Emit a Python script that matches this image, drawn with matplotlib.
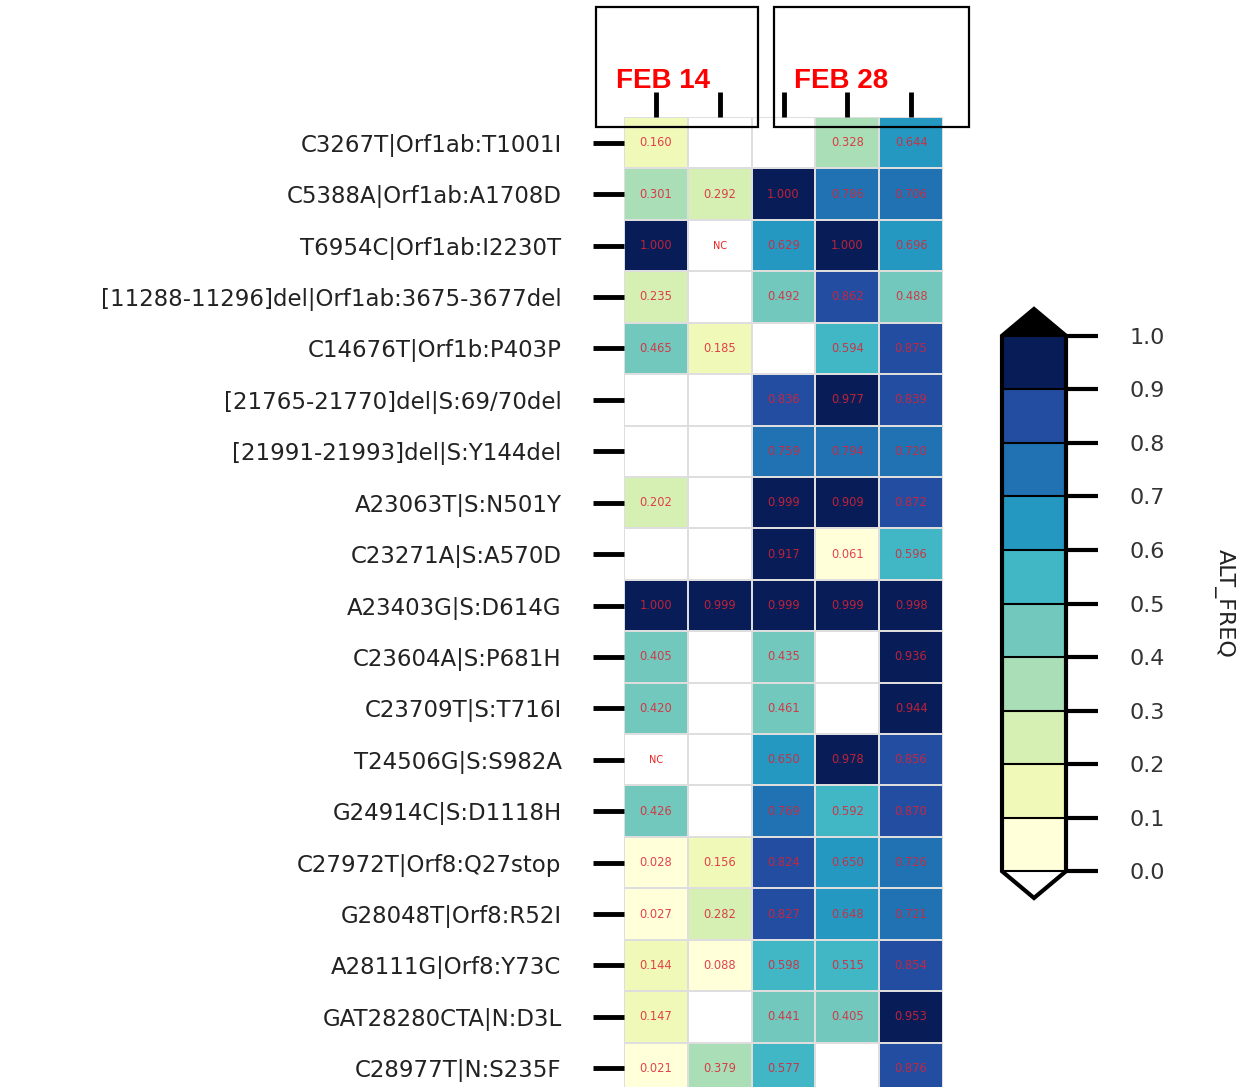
import numpy as np
import matplotlib
matplotlib.use('Agg')
import matplotlib.pyplot as plt
from matplotlib.colors import ListedColormap
from matplotlib.patches import Rectangle

nan = np.nan

mutations = [
    'C3267T|Orf1ab:T1001I',
    'C5388A|Orf1ab:A1708D',
    'T6954C|Orf1ab:I2230T',
    '[11288-11296]del|Orf1ab:3675-3677del',
    'C14676T|Orf1b:P403P',
    '[21765-21770]del|S:69/70del',
    '[21991-21993]del|S:Y144del',
    'A23063T|S:N501Y',
    'C23271A|S:A570D',
    'A23403G|S:D614G',
    'C23604A|S:P681H',
    'C23709T|S:T716I',
    'T24506G|S:S982A',
    'G24914C|S:D1118H',
    'C27972T|Orf8:Q27stop',
    'G28048T|Orf8:R52I',
    'A28111G|Orf8:Y73C',
    'GAT28280CTA|N:D3L',
    'C28977T|N:S235F',
]

# one column per sample, 2 from feb 14 and 3 from feb 28
sample_1 = [0.160, 0.301, 1.000, 0.235, 0.465, nan, nan, 0.202, nan, 1.000,
            0.405, 0.420, nan, 0.426, 0.028, 0.027, 0.144, 0.147, 0.021]
sample_2 = [nan, 0.292, nan, nan, 0.185, nan, nan, nan, nan, 0.999,
            nan, nan, nan, nan, 0.156, 0.282, 0.088, nan, 0.379]
sample_3 = [nan, 1.000, 0.629, 0.492, nan, 0.836, 0.759, 0.999, 0.917, 0.999,
            0.435, 0.461, 0.650, 0.769, 0.824, 0.827, 0.598, 0.441, 0.577]
sample_4 = [0.328, 0.786, 1.000, 0.862, 0.594, 0.977, 0.794, 0.909, 0.061, 0.999,
            nan, nan, 0.978, 0.592, 0.650, 0.648, 0.515, 0.405, nan]
sample_5 = [0.644, 0.706, 0.696, 0.488, 0.875, 0.839, 0.720, 0.872, 0.596, 0.998,
            0.936, 0.944, 0.856, 0.870, 0.726, 0.721, 0.854, 0.953, 0.876]

# cells with no coverage: (row, column)
no_call = [(2, 1), (12, 0)]

group_labels = ['FEB 14', 'FEB 28']

data = np.array([sample_1, sample_2, sample_3, sample_4, sample_5]).T
n_rows, n_cols = data.shape

W, H = 1248, 1087
fig = plt.figure(figsize=(W / 100, H / 100), dpi=100)

# 11-step YlGnBu, the 0.9-1.0 bin takes the last (darkest) step
base = plt.get_cmap('YlGnBu', 11)
steps = base(np.linspace(0, 1, 11))
cmap = ListedColormap(np.vstack([steps[:9], steps[10:]]))
cmap.set_over('black')
cmap.set_under('white')

ax = fig.add_axes([624 / W, 1 - 1094 / H, 319 / W, 977 / H])
mesh = ax.pcolormesh(np.ma.masked_invalid(data), cmap=cmap, vmin=0, vmax=1,
                     edgecolors='#dedede', linewidth=1.2)
ax.set_xlim(0, n_cols)
ax.set_ylim(n_rows, 0)
for side in ax.spines.values():
    side.set_visible(False)

for i in range(n_rows):
    for j in range(n_cols):
        if (i, j) in no_call:
            ax.text(j + 0.5, i + 0.5, 'NC', ha='center', va='center', fontsize=7, color='#ee2222')
        elif not np.isnan(data[i, j]):
            ax.text(j + 0.5, i + 0.5, f'{data[i, j]:.3f}', ha='center', va='center',
                    fontsize=8.3, color='#dd2233', alpha=0.85)

ax.set_yticks(np.arange(n_rows) + 0.5)
ax.set_yticklabels(mutations, fontsize=16.5, color='#222222')
ax.tick_params(axis='y', length=22, width=3.5, pad=23)
ax.xaxis.tick_top()
ax.set_xticks(np.arange(n_cols) + 0.5)
ax.set_xticklabels([])
ax.tick_params(axis='x', length=18, width=3.5)

cax = fig.add_axes([1002 / W, 1 - 898 / H, 64 / W, 589 / H])
cb = fig.colorbar(mesh, cax=cax, extend='both', drawedges=True,
                  ticks=np.arange(0, 1.01, 0.1))
cb.outline.set_linewidth(3)
cb.dividers.set_linewidth(1.5)
cb.ax.tick_params(length=23, width=3, pad=23, labelsize=16, labelcolor='#333333')
cb.set_label('ALT_FREQ', rotation=270, fontsize=16, color='#222222', labelpad=50)

# date group boxes above the columns
boxes = [(596, 758), (774, 969)]
for (x0, x1), label in zip(boxes, group_labels):
    fig.patches.append(Rectangle((x0 / W, 1 - 127 / H), (x1 - x0) / W, 120 / H,
                                 transform=fig.transFigure, fill=False,
                                 edgecolor='black', linewidth=1.6, zorder=5))
    fig.text((x0 + 20) / W, 1 - 88 / H, label, fontsize=20, fontweight='bold',
             family='Liberation Sans', color='red', ha='left', va='baseline')

fig.savefig('out.png', dpi=100)
